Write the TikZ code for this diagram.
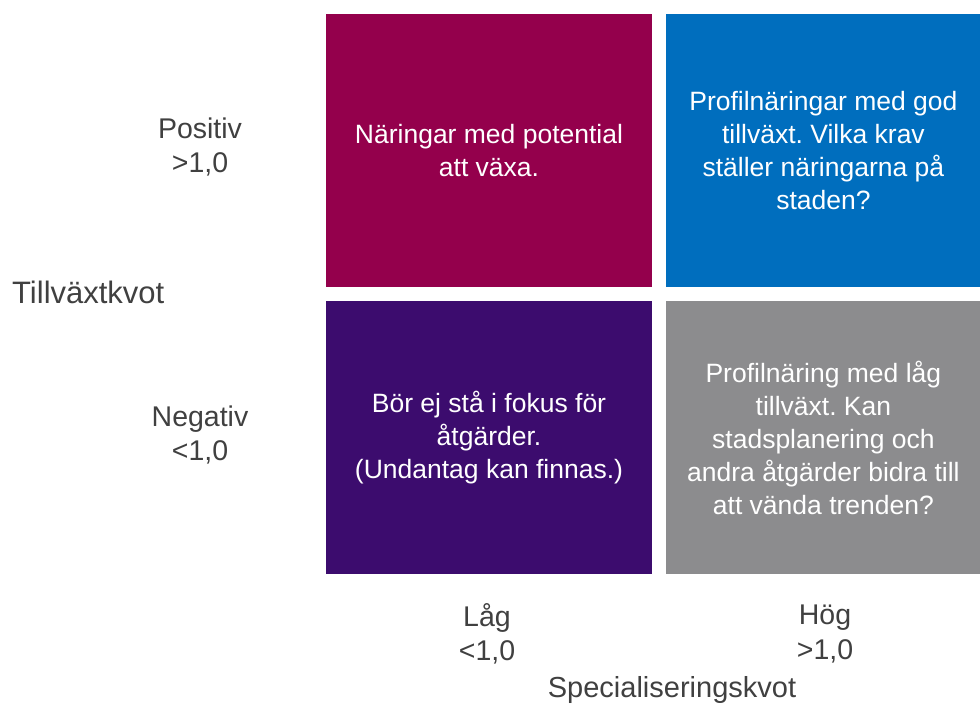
\documentclass[tikz,border=0pt]{standalone}
\usepackage{fontspec}
\setmainfont{Liberation Sans}
\usepackage{xcolor}
\usetikzlibrary{positioning}
\frenchspacing

\definecolor{plum}{RGB}{148,0,76}
\definecolor{profblue}{RGB}{0,110,190}
\definecolor{deeppurple}{RGB}{60,12,110}
\definecolor{midgray}{RGB}{140,140,142}
\definecolor{labelgray}{RGB}{64,64,64}

\begin{document}
\begin{tikzpicture}[
        x=1pt, y=-1pt,
        node distance=14pt and 14pt,
        quad/.style={
            rectangle,
            minimum width=326pt,
            minimum height=273pt,
            inner sep=0pt,
            text=white,
            align=center,
            font=\fontsize{26.5}{33}\selectfont
        },
        narrow/.style={
            minimum width=314pt
        },
        axislabel/.style={
            inner sep=0pt,
            text=labelgray,
            align=center,
            font=\fontsize{28.5}{34.5}\selectfont
        }
    ]
    \useasboundingbox (0,0) rectangle (980,704);

    % Quadrants
    \node[quad, fill=plum] (potential) at (489,150.5) {N\"aringar med potential\\att v\"axa.};
    \node[quad, narrow, fill=profblue, right=of potential] (goodgrowth) {Profiln\"aringar med god\\tillv\"axt. Vilka krav\\st\"aller n\"aringarna p\aa\\staden?};
    \node[quad, fill=deeppurple, below=of potential] (nofocus) {B\"or ej st\aa\ i fokus f\"or\\\aa tg\"arder.\\(Undantag kan finnas.)};
    \node[quad, narrow, fill=midgray, right=of nofocus] (lowgrowth) {Profiln\"aring med l\aa g\\tillv\"axt. Kan\\stadsplanering och\\andra \aa tg\"arder bidra till\\att v\"anda trenden?};

    % Axis labels
    \node[axislabel] (positive) at (200,147) {Positiv\\>1,0};
    \node[axislabel] (negative) at (200,435) {Negativ\\<1,0};
    \node[axislabel, anchor=base west, font=\fontsize{31}{36}\selectfont] (growthratio) at (12,303) {Tillv\"axtkvot};
    \node[axislabel] (low) at (487,634) {L\aa g\\<1,0};
    \node[axislabel] (high) at (825,634) {H\"og\\>1,0};
    \node[axislabel, anchor=base, font=\fontsize{29}{34.5}\selectfont] (specratio) at (672,697) {Specialiseringskvot};
\end{tikzpicture}
\end{document}
